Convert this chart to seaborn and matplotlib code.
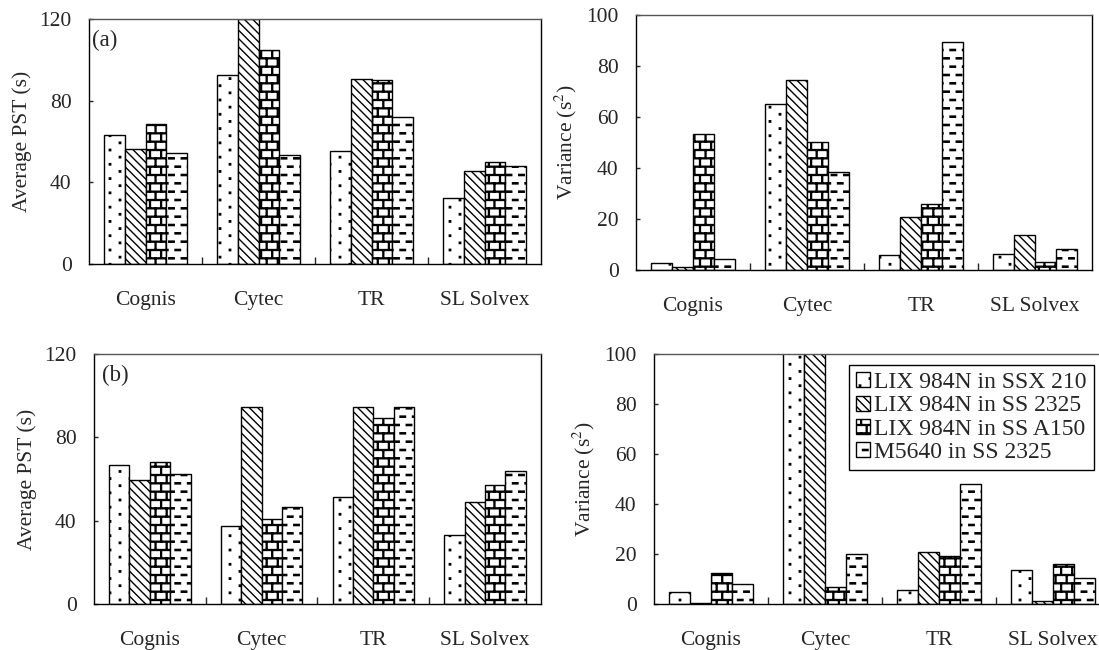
import warnings
import numpy as np
import pandas as pd
import seaborn as sns
import matplotlib
matplotlib.use("Agg")
import matplotlib.pyplot as plt
import matplotlib.hatch as mhatch
from matplotlib.path import Path

warnings.filterwarnings("ignore", message=".*hatch must consist.*")

# ---- data ----
extractants = ["Cognis", "Cytec", "TR", "SL Solvex"]
systems = ["LIX 984N in SSX 210", "LIX 984N in SS 2325",
           "LIX 984N in SS A150", "M5640 in SS 2325"]

# (a) average PST, one list per system (Cognis, Cytec, TR, SL Solvex)
pst_a_ssx210 = [63.0, 92.5, 55.5, 32.3]
pst_a_ss2325 = [56.5, 120.0, 90.7, 45.8]
pst_a_a150 = [68.8, 104.6, 90.1, 50.2]
pst_a_m5640 = [54.5, 53.4, 72.2, 48.0]

# variance for (a)
var_a_ssx210 = [2.6, 65.0, 6.0, 6.4]
var_a_ss2325 = [1.3, 74.7, 20.9, 13.9]
var_a_a150 = [53.5, 50.2, 25.9, 3.1]
var_a_m5640 = [4.4, 38.6, 89.4, 8.4]

# (b) average PST
pst_b_ssx210 = [66.8, 37.5, 51.3, 33.1]
pst_b_ss2325 = [59.6, 94.5, 94.5, 48.8]
pst_b_a150 = [68.2, 40.8, 89.1, 57.2]
pst_b_m5640 = [62.5, 46.4, 94.5, 63.7]

# variance for (b); the two Cytec bars run off the top of the scale
var_b_ssx210 = [4.6, 110.0, 5.4, 13.4]
var_b_ss2325 = [0.5, 110.0, 20.9, 1.3]
var_b_a150 = [12.5, 6.6, 19.3, 16.1]
var_b_m5640 = [8.1, 19.8, 48.1, 10.4]


# ---- custom hatch patterns: 'p' sparse dots, 'b' brick, 'd' staggered dashes ----
def _rect(x0, y0, x1, y1):
    return [(x0, y0), (x1, y0), (x1, y1), (x0, y1), (x0, y0)]


class _RectHatch(mhatch.HatchPatternBase):
    key = None

    def __init__(self, hatch, density):
        self.rects = self.make_rects() if (hatch and self.key in hatch) else []
        self.num_vertices = 5 * len(self.rects)

    def set_vertices_and_codes(self, vertices, codes):
        vertices[:] = np.array(self.rects, dtype=float).reshape(-1, 2)
        codes[:] = np.tile([Path.MOVETO, Path.LINETO, Path.LINETO,
                            Path.LINETO, Path.CLOSEPOLY], len(self.rects))


class BrickHatch(_RectHatch):
    key = "b"

    def make_rects(self):
        rows, cols, t = 12, 9, 0.009
        h, w = 1 / rows, 1 / cols
        out = []
        for r in range(rows + 1):
            y = r * h
            out.append(_rect(0, y - t / 2, 1, y + t / 2))
            if r == rows:
                break
            shift = 0 if r % 2 == 0 else w / 2
            for c in range(cols + 1):
                x = c * w + shift
                out.append(_rect(x - t / 2, y, x + t / 2, y + h))
        return out


class DashHatch(_RectHatch):
    key = "d"

    def make_rects(self):
        rows, per_row, length, t = 12, 8, 0.055, 0.012
        out = []
        for r in range(rows + 1):
            y = r / rows
            shift = 0 if r % 2 == 0 else 0.5 / per_row
            for c in range(-1, per_row + 1):
                x0 = c / per_row + shift
                out.append(_rect(x0, y - t / 2, x0 + length, y + t / 2))
        return out


class DotHatch(_RectHatch):
    key = "p"

    def make_rects(self):
        rows, per_row, s = 14, 5, 0.007
        out = []
        for r in range(rows + 1):
            y = r / rows
            shift = 0 if r % 2 == 0 else 0.5 / per_row
            for c in range(-1, per_row + 1):
                x = c / per_row + shift
                out.append(_rect(x - s, y - s, x + s, y + s))
        return out


mhatch._hatch_types.extend([BrickHatch, DashHatch, DotHatch])

hatches = ["p", "\\\\\\\\", "b", "d"]

# ---- style ----
sns.set_style("ticks")
plt.rcParams["font.family"] = ["Liberation Serif", "DejaVu Serif"]
plt.rcParams["mathtext.fontset"] = "stix"
plt.rcParams["font.size"] = 15.5
plt.rcParams["hatch.linewidth"] = 1.0
plt.rcParams["hatch.color"] = "black"


def long_frame(series):
    rows = []
    for name, vals in zip(systems, series):
        for ext, v in zip(extractants, vals):
            rows.append({"extractant": ext, "system": name, "value": v})
    return pd.DataFrame(rows)


def draw_panel(ax, series, ymax, step, ylabel, tag=None, tag_pos=None):
    df = long_frame(series)
    sns.barplot(data=df, x="extractant", y="value", hue="system",
                order=extractants, hue_order=systems,
                palette=["white"] * 4, saturation=1, width=0.73,
                edgecolor="black", linewidth=1, errorbar=None,
                legend=False, ax=ax)
    for cont, h in zip(ax.containers, hatches):
        for p in cont:
            p.set_hatch(h)
    ax.set_xlim(-0.5, 3.5)
    ax.set_ylim(0, ymax)
    ax.set_yticks(np.arange(0, ymax + 1, step))
    ax.set_xticks([0.5, 1.5, 2.5], minor=True)
    ax.tick_params(axis="x", which="major", length=0, pad=19.5, labelsize=15.5)
    ax.tick_params(axis="x", which="minor", direction="in", length=5, width=1)
    ax.tick_params(axis="y", direction="in", length=3, width=1, pad=12.5,
                   labelsize=15.5)
    ax.set_xlabel("")
    ax.set_ylabel(ylabel, fontsize=15.5, labelpad=5)
    for s in ax.spines.values():
        s.set_color("black")
        s.set_linewidth(1)
    ax.spines["top"].set_color("#555555")
    if tag:
        ax.text(tag_pos[0], tag_pos[1], tag, transform=ax.transAxes,
                ha="left", va="top", fontsize=16.5)


fig = plt.figure(figsize=(10.99, 6.5), dpi=100)
ax_a = fig.add_axes([0.0810, 0.5938, 0.4113, 0.3769])
ax_c = fig.add_axes([0.5787, 0.5846, 0.4149, 0.3923])
ax_b = fig.add_axes([0.0855, 0.0708, 0.4067, 0.3846])
ax_d = fig.add_axes([0.5951, 0.0708, 0.4149, 0.3846])

draw_panel(ax_a, [pst_a_ssx210, pst_a_ss2325, pst_a_a150, pst_a_m5640],
           120, 40, "Average PST (s)", "(a)", (0.007, 0.955))
draw_panel(ax_c, [var_a_ssx210, var_a_ss2325, var_a_a150, var_a_m5640],
           100, 20, "Variance (s$^2$)")
draw_panel(ax_b, [pst_b_ssx210, pst_b_ss2325, pst_b_a150, pst_b_m5640],
           120, 40, "Average PST (s)", "(b)", (0.018, 0.955))
draw_panel(ax_d, [var_b_ssx210, var_b_ss2325, var_b_a150, var_b_m5640],
           100, 20, "Variance (s$^2$)")

leg = ax_d.legend(ax_d.containers, systems, loc="upper left",
                  bbox_to_anchor=(0.428, 0.956), borderaxespad=0,
                  fontsize=17, frameon=True, fancybox=False,
                  handlelength=0.6, handleheight=0.6, handletextpad=0.15,
                  labelspacing=0.1, borderpad=0.3)
leg.get_frame().set_edgecolor("black")
leg.get_frame().set_linewidth(1)
leg.get_frame().set_alpha(1)

fig.savefig("out.png", dpi=100)
